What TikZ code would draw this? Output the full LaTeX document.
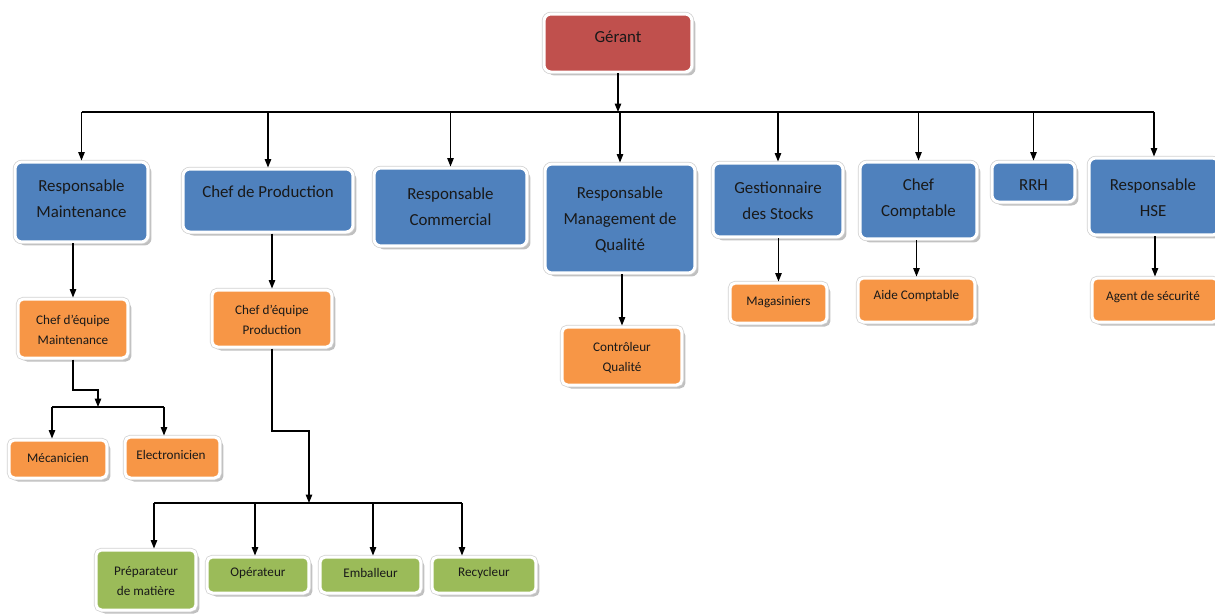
\documentclass[tikz,border=0pt]{standalone}
\usepackage{fontspec}
\setmainfont{Carlito}
\usetikzlibrary{arrows.meta,shadows}
\definecolor{cblue}{HTML}{4F81BD}
\definecolor{cred}{HTML}{C0504D}
\definecolor{corange}{HTML}{F79646}
\definecolor{cgreen}{HTML}{9BBB59}
\tikzset{
  box/.style={rectangle, rounded corners=0.14cm, draw=white, line width=0.06cm, inner sep=0pt,
    drop shadow={shadow xshift=0.07cm, shadow yshift=-0.07cm, fill=black!45, opacity=0.55},
    preaction={draw=black!18, line width=0.09cm}},
  redbox/.style={box, fill=cred},
  bluebox/.style={box, fill=cblue},
  orangebox/.style={box, fill=corange, rounded corners=0.11cm},
  greenbox/.style={box, fill=cgreen, rounded corners=0.11cm},
  bigtxt/.style={font=\fontsize{9.6}{14.7}\selectfont, align=center, inner sep=0pt, text=black!90},
  smalltxt/.style={font=\fontsize{7.5}{11.2}\selectfont, align=center, inner sep=0pt, text=black!90},
  conn/.style={draw=black, line width=0.7pt},
  arr/.style={conn, -{Triangle[length=0.17cm, width=0.13cm]}},
}
\begin{document}
\begin{tikzpicture}[x=0.02cm, y=-0.02cm]
\useasboundingbox (0,0) rectangle (1215,613);

% top
\node[redbox, minimum width=2.96cm, minimum height=1.16cm] (gerant) at (618,43) {};
\node[bigtxt] (t-gerant) at (618,37) {Gérant};

% level 1
\node[bluebox, minimum width=2.66cm, minimum height=1.6cm] (rm) at (81.5,202) {};
\node[bigtxt] (t-rm) at (81.5,199) {Responsable\\Maintenance};
\node[bluebox, minimum width=3.4cm, minimum height=1.26cm] (cp) at (268,200.5) {};
\node[bigtxt] (t-cp) at (268,192) {Chef de Production};
\node[bluebox, minimum width=3.06cm, minimum height=1.56cm] (rc) at (450.5,207) {};
\node[bigtxt] (t-rc) at (450.5,207) {Responsable\\Commercial};
\node[bluebox, minimum width=3.0cm, minimum height=2.18cm] (rmq) at (620,218.5) {};
\node[bigtxt] (t-rmq) at (620,220) {Responsable\\Management de\\Qualité};
\node[bluebox, minimum width=2.6cm, minimum height=1.48cm] (gs) at (778,200) {};
\node[bigtxt] (t-gs) at (778,201) {Gestionnaire\\des Stocks};
\node[bluebox, minimum width=2.34cm, minimum height=1.54cm] (cc) at (918.5,200.5) {};
\node[bigtxt] (t-cc) at (918.5,199) {Chef\\Comptable};
\node[bluebox, minimum width=1.66cm, minimum height=0.8cm] (rrh) at (1033.5,182) {};
\node[bigtxt] (t-rrh) at (1033.5,185) {RRH};
\node[bluebox, minimum width=2.6cm, minimum height=1.54cm] (hse) at (1154,196.5) {};
\node[bigtxt] (t-hse) at (1153,198) {Responsable\\HSE};

% level 2
\node[orangebox, minimum width=2.2cm, minimum height=1.18cm] (cem) at (73,328.5) {};
\node[smalltxt] (t-cem) at (73,330) {Chef d’équipe\\Maintenance};
\node[orangebox, minimum width=2.4cm, minimum height=1.14cm] (cep) at (272,318.5) {};
\node[smalltxt] (t-cep) at (272,320) {Chef d’équipe\\Production};
\node[orangebox, minimum width=2.4cm, minimum height=1.16cm] (cq) at (622,356) {};
\node[smalltxt] (t-cq) at (622,358) {Contrôleur\\Qualité};
\node[orangebox, minimum width=1.94cm, minimum height=0.8cm] (mag) at (778.5,303) {};
\node[smalltxt] (t-mag) at (778.5,302) {Magasiniers};
\node[orangebox, minimum width=2.34cm, minimum height=0.88cm] (ac) at (916.5,300) {};
\node[smalltxt] (t-ac) at (916.5,296) {Aide Comptable};
\node[orangebox, minimum width=2.52cm, minimum height=0.88cm] (as) at (1155,300) {};
\node[smalltxt] (t-as) at (1153,297) {Agent de sécurité};

% level 3 maintenance
\node[orangebox, minimum width=1.96cm, minimum height=0.76cm] (mec) at (58,459) {};
\node[smalltxt] (t-mec) at (58,458) {Mécanicien};
\node[orangebox, minimum width=1.9cm, minimum height=0.82cm] (ele) at (172.5,457.5) {};
\node[smalltxt] (t-ele) at (171,455) {Electronicien};

% level 3 production
\node[greenbox, minimum width=2.0cm, minimum height=1.2cm] (prep) at (146,580) {};
\node[smalltxt] (t-prep) at (146,581) {Préparateur\\de matière};
\node[greenbox, minimum width=2.04cm, minimum height=0.72cm] (op) at (258,575) {};
\node[smalltxt] (t-op) at (258,573) {Opérateur};
\node[greenbox, minimum width=2.02cm, minimum height=0.72cm] (emb) at (370.5,575) {};
\node[smalltxt] (t-emb) at (370.5,573) {Emballeur};
\node[greenbox, minimum width=2.08cm, minimum height=0.72cm] (rec) at (484,575) {};
\node[smalltxt] (t-rec) at (484,573) {Recycleur};

% main bus
\coordinate (bus) at (0,112);
\draw[arr] (gerant.south) -- (gerant.south |- bus);
\draw[conn] (rm.north |- bus) -- (hse.north |- bus);
\foreach \n in {rm,cp,rc,rmq,gs,cc,rrh,hse}
  \draw[arr] (\n.north |- bus) -- (\n.north);

% level 1 -> level 2
\foreach \a/\b in {rm/cem,cp/cep,rmq/cq,gs/mag,cc/ac,hse/as}
  \draw[arr] (\b.north |- \a.south) -- (\b.north);

% maintenance subtree
\coordinate (mj) at (98,390);
\coordinate (mbus) at (98,407);
\coordinate (mL) at (52,407);
\coordinate (mR) at (164,407);
\draw[arr] (cem.south) |- (mj) -- (mbus);
\draw[conn] (mL) -- (mR);
\draw[arr] (mL) -- (mL |- mec.north);
\draw[arr] (mR) -- (mR |- ele.north);

% production subtree
\coordinate (pj) at (309,431);
\coordinate (pbus) at (309,503);
\coordinate (p1) at (154,503);
\coordinate (p2) at (255,503);
\coordinate (p3) at (373,503);
\coordinate (p4) at (462,503);
\draw[arr] (cep.south) |- (pj) -- (pbus);
\draw[conn] (p1) -- (p4);
\draw[arr] (p1) -- (p1 |- prep.north);
\draw[arr] (p2) -- (p2 |- op.north);
\draw[arr] (p3) -- (p3 |- emb.north);
\draw[arr] (p4) -- (p4 |- rec.north);
\end{tikzpicture}
\end{document}
